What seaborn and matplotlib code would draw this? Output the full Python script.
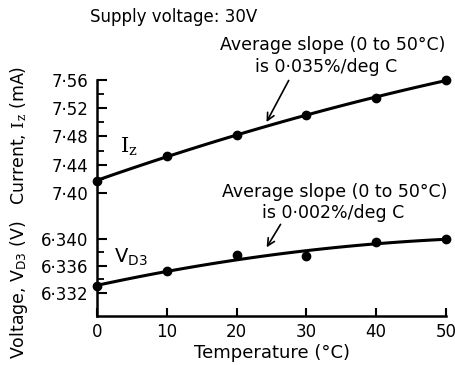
import matplotlib
matplotlib.use("Agg")
import matplotlib.pyplot as plt
import seaborn as sns
import pandas as pd

# Measured data
temperature = [0, 10, 20, 30, 40, 50]
current_mA = [7.417, 7.453, 7.482, 7.510, 7.535, 7.560]
voltage_V = [6.3330, 6.3352, 6.3376, 6.3374, 6.3395, 6.3400]

x_ticks = [0, 10, 20, 30, 40, 50]
current_ticks = [7.40, 7.44, 7.48, 7.52, 7.56]
current_tick_labels = ["7·40", "7·44", "7·48", "7·52", "7·56"]
current_minor = [7.42, 7.46, 7.50, 7.54]
voltage_ticks = [6.332, 6.336, 6.340]
voltage_tick_labels = ["6·332", "6·336", "6·340"]
voltage_minor = [6.334, 6.338]

sns.set_theme(style="ticks")
plt.rcParams["font.family"] = ["DejaVu Sans"]
plt.rcParams["mathtext.fontset"] = "dejavuserif"
plt.rcParams["text.color"] = "black"

df = pd.DataFrame({"T": temperature, "I": current_mA, "V": voltage_V})

W, H = 455, 365
fig = plt.figure(figsize=(W / 100, H / 100), dpi=100)
fig.patch.set_facecolor("white")

left, right, bottom, top = 97, 446, 316, 80
rect = [left / W, (H - bottom) / H, (right - left) / W, (bottom - top) / H]

ax_v = fig.add_axes(rect)
ax_i = fig.add_axes(rect, sharex=ax_v)
ax_i.patch.set_alpha(0)

line_kw = dict(color="black", lw=2.2, clip_on=False)
pt_kw = dict(color="black", s=36, alpha=1, clip_on=False, zorder=5, edgecolor="black")

sns.regplot(data=df, x="T", y="V", order=2, ci=None, ax=ax_v,
            scatter_kws=pt_kw, line_kws=line_kw)
sns.regplot(data=df, x="T", y="I", order=2, ci=None, ax=ax_i,
            scatter_kws=pt_kw, line_kws=line_kw)

ax_v.set_xlim(0, 50)
ax_v.set_ylim(6.3286, 6.3635)
ax_i.set_ylim(7.2258, 7.56)

for ax in (ax_v, ax_i):
    ax.set_xlabel("")
    ax.set_ylabel("")
    for s in ("top", "right"):
        ax.spines[s].set_visible(False)

for s in ("left", "bottom"):
    ax_i.spines[s].set_visible(False)
for s in ("left", "bottom"):
    ax_v.spines[s].set_linewidth(1.8)
    ax_v.spines[s].set_color("black")

tick_fs = 12
ax_v.set_xticks(x_ticks)
ax_v.set_xticklabels([str(t) for t in x_ticks], fontsize=tick_fs)
ax_v.tick_params(axis="x", direction="in", length=6, width=1.5, pad=5,
                 colors="black", labelcolor="black")
ax_i.tick_params(axis="x", bottom=False, labelbottom=False)

ax_v.set_yticks(voltage_ticks)
ax_v.set_yticklabels(voltage_tick_labels, fontsize=tick_fs)
ax_v.set_yticks(voltage_minor, minor=True)
ax_i.set_yticks(current_ticks)
ax_i.set_yticklabels(current_tick_labels, fontsize=tick_fs)
ax_i.set_yticks(current_minor, minor=True)
for ax in (ax_v, ax_i):
    ax.tick_params(axis="y", which="major", direction="in", length=7, width=1.5, pad=6,
                   colors="black", labelcolor="black")
    ax.tick_params(axis="y", which="minor", direction="in", length=5, width=1.3, colors="black")

# Texts, placed in figure pixels (origin top-left)
def ftext(x, y, s, **kw):
    fig.text(x / W, 1 - y / H, s, va="center", color="black", **kw)

ftext(90, 17, "Supply voltage: 30V", fontsize=12)
ftext(220, 45, "Average slope (0 to 50°C)", fontsize=12.5)
ftext(255, 67, "is 0·035%/deg C", fontsize=12.5)
ftext(222, 192, "Average slope (0 to 50°C)", fontsize=12.5)
ftext(262, 213, "is 0·002%/deg C", fontsize=12.5)
ftext(120, 147, r"$\mathrm{I_z}$", fontsize=15)
ftext(114, 257, r"$\mathsf{V_{D3}}$", fontsize=14)
fig.text(272 / W, 1 - 353 / H, "Temperature (°C)", ha="center", va="center", fontsize=13)
fig.text(19 / W, 1 - 135 / H, r"Current, $\mathrm{I_z}$ (mA)", rotation=90,
         ha="center", va="center", fontsize=12.5)
fig.text(19 / W, 1 - 290 / H, r"Voltage, V$_{\mathsf{D3}}$ (V)", rotation=90,
         ha="center", va="center", fontsize=12.5)

arrow = dict(arrowstyle="->", color="black", lw=1.2, mutation_scale=13)
ax_i.annotate("", xy=(24.1, 7.497), xytext=(290, H - 78),
              textcoords="figure pixels", arrowprops=arrow)
ax_v.annotate("", xy=(24.1, 6.3384), xytext=(282, H - 222),
              textcoords="figure pixels", arrowprops=arrow)

fig.savefig("out.png", dpi=100, facecolor="white")
